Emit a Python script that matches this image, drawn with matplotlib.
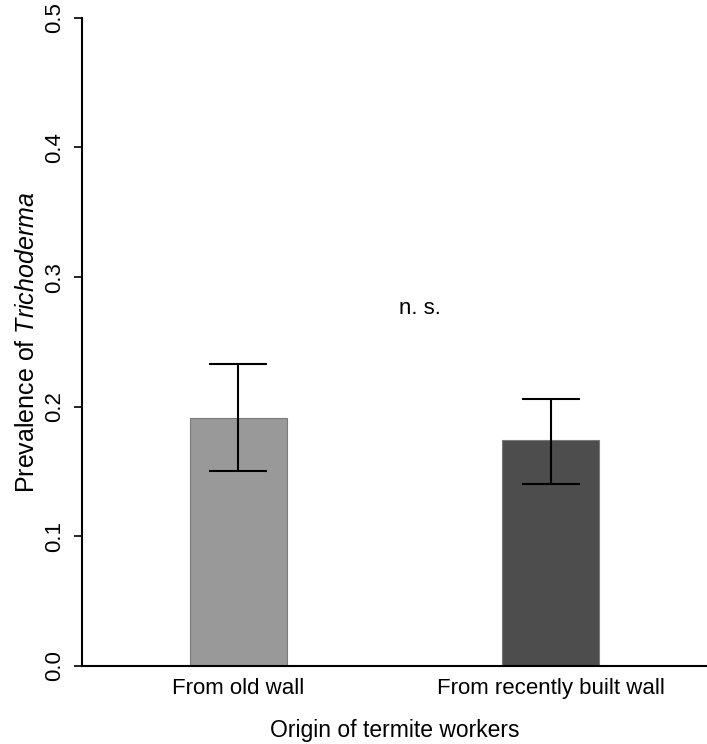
import numpy as np
import matplotlib.pyplot as plt

plt.rcParams['font.family'] = ['Liberation Sans', 'DejaVu Sans']
plt.rcParams['mathtext.fontset'] = 'custom'
plt.rcParams['mathtext.rm'] = 'Liberation Sans'
plt.rcParams['mathtext.it'] = 'Liberation Sans:italic'

# Data
groups = ['From old wall', 'From recently built wall']
prevalence = [0.191, 0.174]
err_low = [0.150, 0.140]
err_high = [0.233, 0.206]
bar_colors = ['#999999', '#4d4d4d']

x = np.array([1, 2])
mean = np.array(prevalence)
yerr = np.array([mean - np.array(err_low), np.array(err_high) - mean])

fs = 16

fig = plt.figure(figsize=(7.07, 7.44), dpi=100)
ax = fig.add_axes([0.116, 0.105, 0.884, 0.871])

ax.bar(x, mean, width=0.31, color=bar_colors, edgecolor='#7a7a7a', linewidth=0.8, zorder=2)
ax.errorbar(x, mean, yerr=yerr, fmt='none', ecolor='black', elinewidth=1.5,
            capsize=21, capthick=1.5, zorder=3)

ax.text(1.58, 0.276, 'n. s.', fontsize=fs, ha='center', va='center')

ax.set_xlim(0.5, 2.5)
ax.set_ylim(0, 0.5)
ax.set_xticks(x)
ax.set_xticklabels(groups, fontsize=fs)
ax.tick_params(axis='x', length=0, pad=9)
ax.set_yticks([0.0, 0.1, 0.2, 0.3, 0.4, 0.5])
ax.set_yticklabels(['0.0', '0.1', '0.2', '0.3', '0.4', '0.5'], rotation=90, va='center', fontsize=fs)
ax.tick_params(axis='y', length=6, width=1.2, pad=6)

ax.spines['top'].set_visible(False)
ax.spines['right'].set_visible(False)
ax.spines['left'].set_linewidth(1.5)
ax.spines['bottom'].set_linewidth(1.5)

ax.set_xlabel('Origin of termite workers', fontsize=16.5, labelpad=14)
ax.set_ylabel('Prevalence of $\\mathit{Trichoderma}$', fontsize=18, labelpad=4)

fig.savefig('out.png', dpi=100)
